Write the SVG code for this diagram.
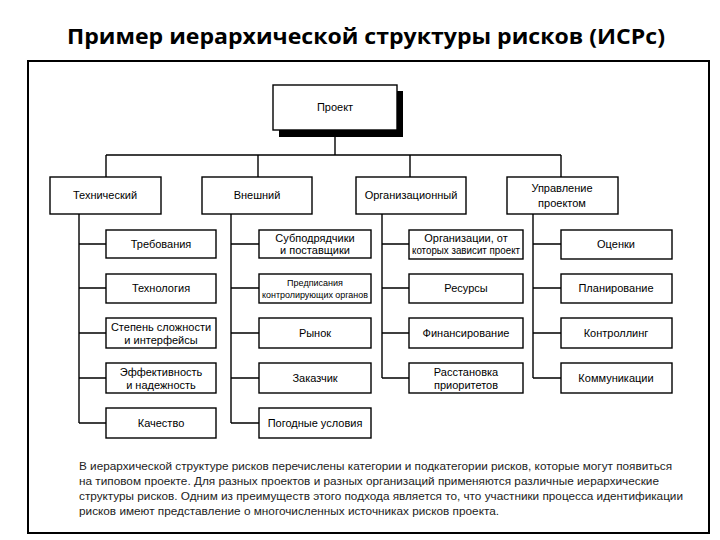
<svg xmlns="http://www.w3.org/2000/svg" width="720" height="540" viewBox="0 0 720 540">
<style>
.bx{fill:#fff;stroke:#000;stroke-width:1.4}
.sh{fill:#000}
.t{font-family:"Liberation Sans",Arial,sans-serif;font-size:11px;fill:#000;text-anchor:middle}
.s{font-size:9px}
.ln{fill:none;stroke:#000;stroke-width:1.4}
.p{font-family:"Liberation Sans",Arial,sans-serif;font-size:11px;fill:#222}
</style>
<rect width="720" height="540" fill="#fff"/>
<text x="366" y="44" font-family="'Open Sans','Liberation Sans',sans-serif" font-weight="bold" font-size="21" text-anchor="middle" textLength="598" lengthAdjust="spacingAndGlyphs">Пример иерархической структуры рисков (ИСРс)</text>
<path d="M28 61 H709 V533 H28 Z" fill="none" stroke="#000" stroke-width="2"/>
<g id="connectors" class="ln">
<path d="M335 137 V155 M106 155 H561 M106 155 V177 M258 155 V177 M410 155 V177 M561 155 V177"/>
<path d="M79 214 V423 M79 244 H106 M79 288 H106 M79 333 H106 M79 378 H106 M79 423 H106"/>
<path d="M231 214 V423 M231 244 H259 M231 288 H259 M231 333 H259 M231 378 H259 M231 423 H259"/>
<path d="M382 214 V378 M382 244 H409 M382 288 H409 M382 333 H409 M382 378 H409"/>
<path d="M533 214 V378 M533 244 H561 M533 288 H561 M533 333 H561 M533 378 H561"/>
</g>
<g id="n-project"><rect class="sh" x="279" y="91" width="124" height="46"/><rect class="bx" x="273" y="85" width="124" height="45"/><text class="t" x="335" y="111">Проект</text></g>
<g id="n-tech"><rect class="bx" x="50" y="177" width="111" height="37"/><text class="t" x="105" y="199">Технический</text></g>
<g id="n-ext"><rect class="bx" x="202" y="177" width="110" height="37"/><text class="t" x="257" y="199">Внешний</text></g>
<g id="n-org"><rect class="bx" x="356" y="177" width="110" height="37"/><text class="t" x="411" y="199">Организационный</text></g>
<g id="n-pm"><rect class="bx" x="507" y="177" width="111" height="37"/><text class="t" x="562" y="192">Управление</text><text class="t" x="562" y="207">проектом</text></g>

<g id="n-t1"><rect class="bx" x="106" y="230" width="110" height="28"/><text class="t" x="161" y="248">Требования</text></g>
<g id="n-t2"><rect class="bx" x="106" y="274" width="110" height="29"/><text class="t" x="161" y="292">Технология</text></g>
<g id="n-t3"><rect class="bx" x="106" y="318" width="110" height="30"/><text class="t" x="161" y="331">Степень сложности</text><text class="t" x="161" y="344">и интерфейсы</text></g>
<g id="n-t4"><rect class="bx" x="106" y="363" width="110" height="30"/><text class="t" x="161" y="376">Эффективность</text><text class="t" x="161" y="389">и надежность</text></g>
<g id="n-t5"><rect class="bx" x="106" y="408" width="110" height="30"/><text class="t" x="161" y="427">Качество</text></g>

<g id="n-e1"><rect class="bx" x="259" y="230" width="112" height="28"/><text class="t" x="315" y="242">Субподрядчики</text><text class="t" x="315" y="254">и поставщики</text></g>
<g id="n-e2"><rect class="bx" x="259" y="274" width="112" height="29"/><text class="t s" x="315" y="286">Предписания</text><text class="t s" x="315" y="298" textLength="106" lengthAdjust="spacingAndGlyphs">контролирующих органов</text></g>
<g id="n-e3"><rect class="bx" x="259" y="318" width="112" height="30"/><text class="t" x="315" y="337">Рынок</text></g>
<g id="n-e4"><rect class="bx" x="259" y="363" width="112" height="30"/><text class="t" x="315" y="382">Заказчик</text></g>
<g id="n-e5"><rect class="bx" x="259" y="408" width="112" height="30"/><text class="t" x="315" y="427">Погодные условия</text></g>

<g id="n-o1"><rect class="bx" x="409" y="230" width="114" height="29"/><text class="t" x="466" y="242" font-size="10">Организации, от</text><text class="t" x="466" y="254" font-size="10" textLength="108" lengthAdjust="spacingAndGlyphs">которых зависит проект</text></g>
<g id="n-o2"><rect class="bx" x="409" y="274" width="114" height="29"/><text class="t" x="466" y="292">Ресурсы</text></g>
<g id="n-o3"><rect class="bx" x="409" y="318" width="114" height="30"/><text class="t" x="466" y="337">Финансирование</text></g>
<g id="n-o4"><rect class="bx" x="409" y="363" width="114" height="30"/><text class="t" x="466" y="376">Расстановка</text><text class="t" x="466" y="389">приоритетов</text></g>

<g id="n-p1"><rect class="bx" x="561" y="230" width="111" height="29"/><text class="t" x="616" y="248">Оценки</text></g>
<g id="n-p2"><rect class="bx" x="561" y="274" width="111" height="29"/><text class="t" x="616" y="292">Планирование</text></g>
<g id="n-p3"><rect class="bx" x="561" y="318" width="111" height="30"/><text class="t" x="616" y="337">Контроллинг</text></g>
<g id="n-p4"><rect class="bx" x="561" y="363" width="111" height="30"/><text class="t" x="616" y="382">Коммуникации</text></g>

<g id="caption" class="p">
<text x="79" y="470" textLength="593" lengthAdjust="spacingAndGlyphs">В иерархической структуре рисков перечислены категории и подкатегории рисков, которые могут появиться</text>
<text x="79" y="485" textLength="580" lengthAdjust="spacingAndGlyphs">на типовом проекте. Для разных проектов и разных организаций применяются различные иерархические</text>
<text x="79" y="500" textLength="604" lengthAdjust="spacingAndGlyphs">структуры рисков. Одним из преимуществ этого подхода является то, что участники процесса идентификации</text>
<text x="79" y="515" textLength="420" lengthAdjust="spacingAndGlyphs">рисков имеют представление о многочисленных источниках рисков проекта.</text>
</g>
</svg>
